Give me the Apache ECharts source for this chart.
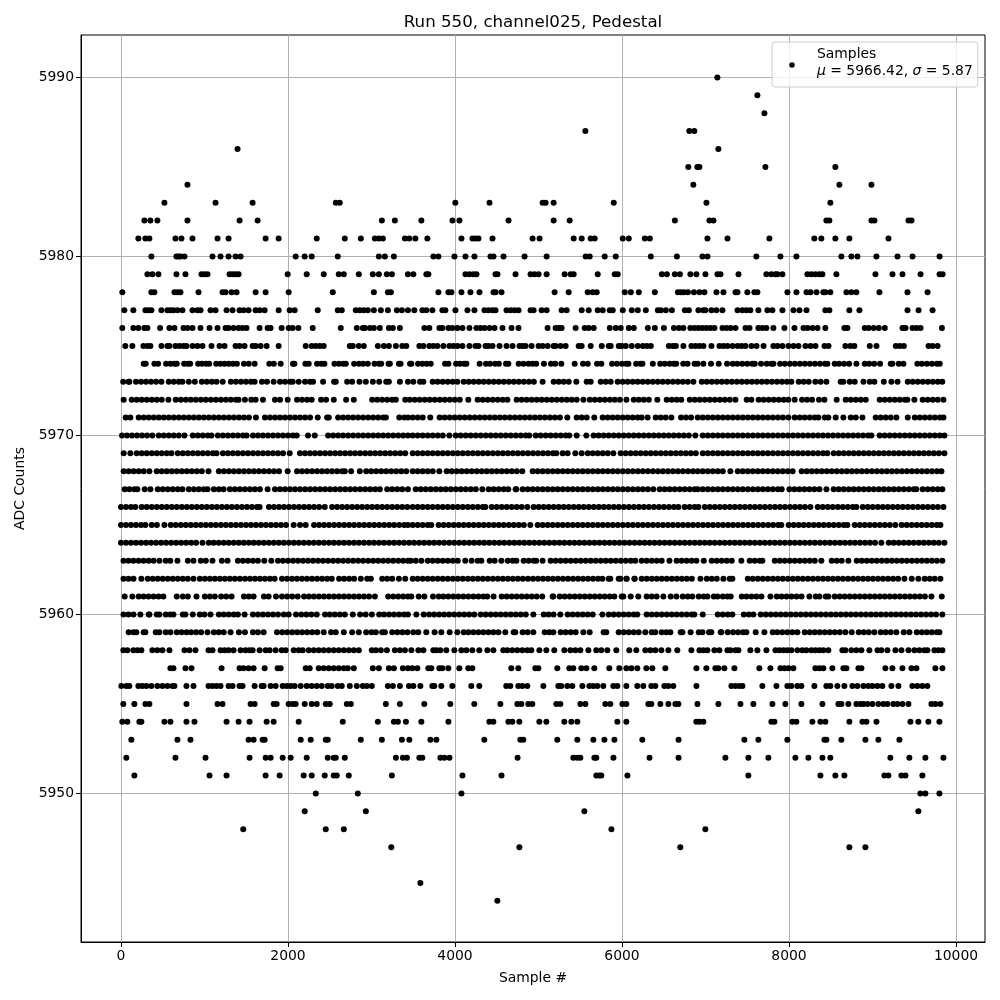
<!DOCTYPE html>
<html><head><meta charset="utf-8">
<style>html,body{margin:0;padding:0;background:#fff}#c{width:1000px;height:1000px}</style>
<script src="https://cdn.jsdelivr.net/npm/echarts@6/dist/echarts.min.js"></script>
</head><body><div id="c"></div>
<script>
const xTicks=[0,2000,4000,6000,8000,10000];
const yTicks=[5950,5960,5970,5980,5990];
const s5944=[4507];
const s5945=[3585];
const s5947=[3237,4771,6698,8723,8915];
const s5948=[1464,2452,2668,5873,6998];
const s5949=[2200,2932,5549,9549];
const s5950=[2332,2836,4077,9573,9633,9801];
const s5951=[160,1060,1264,1732,1900,2188,2284,2440,2548,2584,2728,3244,4089,4557,5692,5728,5752,6065,7513,8376,8555,8663,9142,9190,9346,9394,9597];
const s5952=[64,652,1012,1540,1732,1792,1936,2032,2224,2476,2548,2572,2680,3292,3376,3424,3573,3609,3825,3873,3933,4749,5417,5465,5501,5669,5692,5897,6329,6677,7238,7513,7753,8076,8232,8400,8495,9214,9441,9633,9849];
const s5953=[124,676,832,1528,1588,1696,1720,2152,2272,2452,2476,2872,3124,3364,3453,3705,3777,4351,4782,4818,5225,5465,5657,5789,5909,6243,6677,7465,7633,7980,8424,8448,8627,8915,9070,9322];
const s5954=[16,76,220,244,520,592,784,880,1264,1408,1540,1744,1828,2128,2656,3076,3268,3316,3412,3597,3921,4411,4459,4639,4686,4770,5010,5094,5309,5393,5465,5944,6052,6890,6927,6974,7789,7825,8040,8088,8280,8376,8436,8723,8879,8927,9047,9454,9549,9669,9801];
const s5955=[28,160,292,340,784,1156,1216,1552,1600,1828,1864,2008,2056,2092,2200,2284,2344,2452,2500,2704,2752,3172,3340,3632,3944,4231,4543,4746,4794,4878,4926,5213,5261,5501,5561,5800,5860,6004,6052,6315,6351,6459,6555,6639,6675,6903,7154,7418,7573,7801,7956,8148,8400,8591,8627,8711,8807,8855,8891,8939,8999,9070,9130,9178,9250,9298,9358,9430,9705,9753,9813];
const s5956=[4,64,100,208,256,304,364,436,496,556,616,640,784,868,1048,1096,1144,1192,1288,1336,1420,1456,1600,1684,1708,1792,1852,1936,1984,2032,2080,2152,2224,2284,2344,2404,2476,2524,2596,2644,2740,2824,2896,2944,3004,3196,3256,3340,3448,3501,3585,3728,3752,3836,3968,4195,4291,4614,4662,4758,4806,4866,5058,5237,5273,5345,5405,5525,5609,5657,5705,5776,5896,5944,6052,6183,6255,6351,6399,6507,6555,6614,6891,7310,7358,7406,7442,7681,7849,7980,8028,8100,8148,8304,8447,8495,8579,8663,8759,8819,8891,8950,8999,9059,9118,9226,9310,9477,9537,9597,9657];
const s5957=[592,628,772,844,1204,1420,1468,1528,1588,1720,1876,1912,2212,2260,2368,2428,2488,2548,2608,2668,2716,2788,3016,3088,3208,3268,3376,3436,3489,3549,3680,3716,3812,3848,3920,4052,4159,4207,4674,4758,4962,4998,5225,5369,5417,5513,5573,5668,5848,5968,6052,6112,6183,6291,6363,6519,6891,7010,7118,7154,7226,7346,7645,7777,7897,7945,7993,8052,8316,8364,8411,8519,8651,8687,8831,8867,9154,9238,9358,9466,9526,9753,9837];
const s5958=[28,76,148,196,244,376,436,496,580,760,820,892,1048,1096,1192,1240,1288,1348,1432,1492,1540,1576,1660,1732,1780,1852,1924,1972,2068,2128,2176,2248,2308,2368,2428,2488,2548,2608,2668,2728,2788,2848,3004,3052,3112,3184,3280,3340,3400,3477,3561,3621,3740,3776,3824,3896,3992,4076,4135,4207,4291,4387,4459,4578,4626,4686,4746,4806,4866,4914,5010,5094,5189,5309,5381,5441,5501,5597,5692,5752,5824,5932,6087,6171,6279,6339,6399,6471,6555,6662,6831,6927,6974,7022,7106,7166,7262,7298,7358,7394,7537,7621,7729,7837,7885,7933,7980,8028,8100,8160,8208,8268,8316,8364,8411,8471,8639,8675,8747,8807,8867,8962,9059,9106,9178,9274,9346,9430,9501,9561,9621,9657,9741,9789,9837];
const s5959=[92,150,184,272,292,416,460,536,592,668,725,785,840,900,960,1036,1112,1170,1230,1312,1412,1484,1580,1640,1708,1868,1930,1990,2050,2110,2170,2230,2290,2350,2428,2516,2572,2668,2768,2848,2936,3000,3052,3128,3160,3248,3310,3370,3430,3500,3560,3656,3756,3836,3936,4028,4104,4160,4220,4280,4340,4400,4460,4520,4602,4702,4722,4810,4870,4938,5074,5130,5177,5265,5325,5385,5445,5537,5613,5780,5812,5960,6020,6080,6140,6200,6279,6355,6399,6475,6530,6579,6703,6723,6822,6919,6963,7042,7070,7182,7190,7266,7330,7390,7450,7489,7601,7705,7805,7860,7920,7980,8040,8100,8188,8248,8308,8368,8428,8488,8548,8608,8675,8751,8835,8895,8955,9022,9098,9158,9218,9286,9374,9442,9530,9590,9650,9710,9770,9801];
const s5960=[30,90,150,232,332,340,428,460,536,590,628,740,772,860,944,1000,1072,1172,1230,1290,1350,1400,1480,1580,1640,1700,1760,1820,1880,1950,2008,2096,2160,2220,2280,2344,2444,2500,2560,2620,2680,2776,2864,2930,3004,3092,3150,3210,3270,3330,3390,3436,3537,3625,3690,3750,3810,3870,3930,3990,4050,4110,4170,4231,4307,4367,4427,4487,4547,4607,4667,4727,4787,4847,4938,5062,5120,5180,5261,5349,5409,5469,5529,5589,5649,5765,5840,5900,5960,6020,6080,6140,6183,6295,6355,6415,6475,6535,6595,6655,6715,6775,6835,6866,6967,7146,7206,7266,7322,7458,7518,7573,7661,7721,7781,7841,7901,7961,8021,8081,8141,8201,8261,8321,8381,8441,8501,8561,8621,8681,8741,8801,8861,8921,8981,9041,9101,9161,9221,9281,9341,9401,9461,9521,9581,9641,9701,9761,9836];
const s5961=[44,136,212,270,330,390,450,508,668,740,800,904,1004,1064,1124,1200,1260,1324,1472,1530,1588,1712,1768,1856,1928,1990,2050,2116,2192,2250,2310,2370,2430,2490,2550,2610,2670,2730,2790,2850,2910,2970,3040,3200,3260,3320,3380,3436,3477,3565,3633,3736,3804,3860,3920,3980,4040,4100,4160,4220,4280,4340,4386,4462,4559,4619,4679,4739,4799,4859,4919,4979,5045,5169,5177,5253,5313,5373,5433,5493,5553,5613,5673,5733,5793,5853,5908,5996,6016,6104,6195,6295,6355,6415,6495,6583,6651,6727,6787,6842,6919,6979,7023,7099,7143,7207,7262,7302,7434,7490,7550,7610,7670,7777,7853,7910,7970,8030,8090,8150,8244,8320,8364,8440,8471,8547,8607,8667,8727,8787,8847,8907,8967,9027,9087,9147,9207,9267,9327,9387,9447,9507,9567,9627,9705,9829];
const s5962=[30,90,150,244,320,380,440,500,560,620,680,740,800,868,944,1004,1064,1124,1184,1244,1304,1364,1424,1484,1544,1604,1664,1724,1784,1840,1928,1988,2048,2108,2168,2228,2288,2348,2408,2468,2524,2612,2672,2732,2792,2872,2948,2992,3128,3188,3248,3328,3404,3493,3553,3613,3673,3733,3793,3853,3913,3973,4033,4093,4153,4213,4273,4333,4393,4453,4513,4573,4633,4693,4753,4813,4873,4933,4993,5053,5113,5173,5233,5293,5353,5413,5473,5533,5593,5653,5713,5765,5840,5860,5960,5980,6056,6052,6152,6148,6236,6296,6356,6416,6476,6536,6596,6656,6716,6776,6836,6939,7015,7075,7135,7214,7290,7322,7506,7566,7626,7686,7746,7806,7866,7926,7986,8046,8106,8166,8226,8286,8346,8406,8466,8526,8586,8646,8706,8766,8826,8886,8946,9006,9066,9126,9186,9246,9306,9382,9470,9549,9625,9685,9745,9813];
const s5963=[30,90,150,210,270,330,390,460,536,590,676,800,868,956,1016,1096,1208,1276,1400,1460,1520,1580,1640,1716,1800,1880,1940,2000,2060,2120,2180,2240,2300,2360,2420,2480,2540,2600,2660,2720,2780,2840,2900,2960,3020,3080,3140,3200,3260,3320,3380,3436,3469,3530,3597,3673,3733,3793,3853,3913,3973,4033,4123,4199,4271,4315,4415,4475,4555,4631,4691,4735,4822,4882,4942,4973,5049,5145,5205,5265,5325,5385,5445,5505,5565,5625,5685,5745,5805,5865,5925,5985,6045,6105,6159,6235,6295,6355,6415,6475,6568,6654,6714,6774,6834,6891,6979,7074,7134,7194,7254,7314,7429,7529,7589,7649,7681,7829,7889,7949,8009,8069,8129,8189,8249,8309,8387,8511,8571,8631,8711,8811,8871,8931,8991,9051,9111,9171,9231,9291,9351,9411,9471,9531,9591,9651,9711,9771,9836];
const s5964=[0,60,120,180,240,300,360,420,480,540,600,660,720,780,840,900,976,1052,1110,1170,1230,1290,1350,1410,1470,1530,1590,1650,1710,1770,1830,1890,1950,2010,2070,2130,2190,2250,2310,2370,2430,2490,2550,2610,2670,2730,2790,2850,2910,2970,3030,3090,3150,3210,3270,3330,3390,3450,3510,3570,3630,3690,3750,3810,3870,3930,3990,4050,4110,4170,4230,4290,4350,4410,4470,4530,4590,4650,4710,4770,4830,4890,4950,5010,5070,5130,5190,5250,5310,5370,5430,5490,5550,5610,5670,5730,5790,5850,5910,5970,6030,6090,6150,6210,6270,6330,6390,6450,6510,6570,6630,6690,6750,6810,6870,6930,6990,7050,7110,7170,7230,7290,7350,7410,7470,7530,7590,7650,7710,7770,7830,7890,7950,8010,8070,8130,8190,8250,8310,8370,8430,8490,8550,8610,8670,8730,8790,8850,8910,8970,9030,9106,9194,9254,9314,9374,9434,9494,9554,9614,9674,9734,9794,9861];
const s5965=[0,60,120,180,240,292,368,430,520,596,656,716,776,836,896,956,1016,1076,1136,1196,1256,1316,1376,1436,1496,1556,1616,1676,1736,1796,1856,1916,1976,2068,2144,2212,2312,2372,2432,2492,2552,2612,2672,2732,2792,2852,2912,2972,3032,3092,3152,3212,3272,3332,3392,3436,3493,3553,3613,3673,3716,3804,3864,3924,3984,4044,4104,4164,4224,4284,4344,4404,4464,4524,4584,4644,4704,4764,4824,4902,4990,5050,5110,5170,5230,5290,5350,5410,5470,5530,5590,5650,5710,5770,5830,5890,5950,6010,6070,6130,6190,6250,6310,6370,6430,6490,6550,6610,6670,6730,6790,6850,6910,6970,7030,7090,7150,7210,7270,7330,7390,7450,7510,7570,7630,7690,7750,7810,7870,7908,7996,8056,8116,8176,8236,8296,8356,8416,8476,8536,8596,8656,8699,8787,8847,8907,8967,9027,9087,9147,9207,9273,9349,9409,9469,9529,9589,9649,9709,9769,9813];
const s5966=[0,60,120,172,248,308,368,428,488,548,608,668,728,788,848,908,968,1028,1088,1148,1208,1268,1328,1388,1448,1508,1568,1628,1660,1772,1832,1892,1952,2012,2072,2132,2192,2252,2312,2372,2440,2528,2588,2648,2708,2768,2828,2888,2948,3008,3068,3128,3188,3248,3308,3368,3428,3493,3553,3613,3673,3733,3793,3853,3913,3973,4033,4093,4153,4213,4273,4333,4363,4439,4499,4559,4619,4679,4739,4799,4866,4942,5002,5062,5122,5182,5242,5302,5362,5422,5482,5542,5602,5662,5722,5782,5842,5902,5962,6022,6082,6142,6202,6262,6322,6382,6442,6502,6562,6622,6674,6750,6810,6870,6915,6991,7051,7111,7171,7231,7291,7351,7411,7471,7531,7591,7651,7711,7771,7831,7891,7951,8011,8071,8131,8191,8256,8344,8404,8464,8524,8584,8644,8704,8764,8807,8883,8943,9003,9063,9123,9183,9243,9303,9363,9423,9483,9543,9603,9663,9723,9783,9849];
const s5967=[44,100,160,196,284,352,440,500,560,620,680,736,812,872,932,992,1036,1112,1172,1228,1304,1364,1424,1484,1544,1604,1664,1756,1844,1904,1964,2024,2084,2144,2204,2264,2324,2384,2444,2504,2564,2624,2684,2744,2804,2864,2924,2984,3044,3100,3188,3248,3308,3368,3436,3529,3589,3649,3709,3769,3829,3889,3949,4009,4069,4129,4189,4249,4327,4403,4463,4523,4583,4638,4726,4734,4810,4870,4930,4990,5050,5110,5170,5230,5290,5350,5410,5470,5530,5590,5650,5710,5770,5830,5890,5950,6010,6070,6130,6190,6250,6310,6375,6451,6511,6571,6631,6691,6751,6811,6871,6907,6967,7027,7087,7147,7207,7267,7327,7387,7447,7507,7567,7627,7687,7747,7807,7867,7912,8004,8064,8124,8184,8244,8304,8364,8448,8535,8595,8655,8715,8775,8835,8895,8955,9015,9075,9135,9195,9255,9315,9375,9435,9495,9525,9601,9661,9721,9781,9836];
const s5968=[32,92,152,212,272,340,428,488,548,608,668,728,788,848,908,968,1048,1172,1232,1292,1352,1412,1472,1532,1592,1652,1712,1772,1832,1892,1996,2108,2168,2228,2288,2348,2408,2468,2528,2588,2648,2680,2756,2860,2936,2996,3056,3116,3176,3236,3296,3356,3416,3493,3553,3613,3673,3733,3812,3900,3960,4020,4080,4140,4200,4260,4320,4380,4440,4500,4560,4620,4680,4740,4806,4930,4990,5050,5110,5170,5230,5290,5350,5410,5470,5530,5590,5650,5710,5770,5830,5890,5950,6010,6070,6130,6190,6250,6310,6370,6430,6490,6550,6610,6670,6730,6790,6850,6907,6967,7027,7087,7147,7207,7298,7386,7446,7506,7566,7626,7686,7746,7806,7866,7926,7986,8044,8152,8212,8272,8332,8392,8452,8512,8572,8632,8692,8752,8812,8872,8932,8992,9052,9112,9172,9232,9292,9352,9412,9472,9532,9592,9652,9712,9772,9825];
const s5969=[32,112,188,248,308,368,428,488,548,604,680,740,800,860,920,980,1040,1100,1144,1220,1280,1340,1400,1460,1520,1580,1640,1700,1760,1820,1880,1940,2020,2144,2204,2264,2324,2384,2444,2504,2564,2624,2684,2744,2804,2864,2924,2984,3044,3104,3164,3224,3284,3344,3404,3493,3553,3613,3673,3733,3793,3853,3913,3973,4033,4093,4153,4213,4273,4333,4393,4453,4513,4573,4633,4693,4753,4813,4873,4933,4993,5053,5113,5173,5213,5289,5349,5441,5517,5589,5649,5709,5769,5829,5896,5984,6044,6104,6164,6224,6284,6344,6404,6464,6524,6584,6644,6704,6764,6824,6884,6967,7027,7087,7147,7207,7267,7327,7387,7447,7507,7567,7627,7687,7747,7807,7867,7927,7987,8047,8107,8167,8227,8287,8347,8407,8459,8535,8595,8655,8715,8775,8835,8895,8955,9015,9075,9135,9195,9255,9315,9375,9435,9495,9555,9615,9675,9735,9795,9861];
const s5970=[12,72,132,192,252,312,376,452,512,572,632,692,760,860,920,980,1040,1084,1160,1220,1280,1340,1400,1460,1504,1580,1640,1700,1760,1820,1880,1940,2000,2060,2104,2240,2320,2480,2540,2600,2660,2720,2780,2840,2900,2960,3020,3080,3140,3200,3260,3320,3380,3436,3493,3553,3613,3673,3733,3793,3853,3932,4008,4068,4128,4188,4248,4308,4368,4428,4488,4548,4608,4668,4728,4788,4848,4890,4966,5026,5086,5146,5206,5266,5326,5368,5457,5573,5660,5720,5780,5840,5900,5960,6020,6080,6140,6200,6260,6320,6380,6440,6500,6560,6620,6680,6740,6800,6878,6967,7027,7087,7147,7207,7267,7327,7387,7447,7507,7567,7627,7687,7747,7807,7867,7927,7987,8047,8107,8167,8227,8287,8347,8407,8467,8527,8587,8647,8707,8767,8827,8887,8947,8986,9086,9146,9206,9266,9326,9386,9446,9506,9566,9626,9686,9746,9806,9861];
const s5971=[56,112,212,272,332,392,452,512,572,632,692,752,812,872,932,992,1052,1112,1172,1232,1292,1352,1412,1472,1532,1616,1724,1784,1844,1904,1964,2024,2084,2144,2204,2264,2356,2468,2488,2600,2660,2720,2780,2840,2900,2960,3020,3080,3140,3172,3332,3392,3436,3493,3553,3613,3704,3816,3876,3936,3996,4056,4116,4176,4236,4296,4356,4416,4476,4536,4596,4656,4716,4776,4836,4896,4956,5016,5076,5136,5196,5256,5345,5457,5517,5577,5668,5768,5828,5888,5948,6008,6068,6128,6188,6235,6307,6403,6463,6523,6591,6707,6767,6827,6907,6967,7027,7087,7147,7207,7267,7327,7387,7447,7507,7567,7627,7687,7747,7807,7867,7927,7992,8068,8128,8188,8248,8308,8351,8428,8471,8559,8651,8739,8799,8879,9038,9098,9158,9218,9286,9422,9506,9566,9626,9686,9746,9806,9849];
const s5972=[32,128,188,248,308,368,428,488,568,656,716,776,836,896,956,1016,1076,1136,1196,1256,1316,1376,1408,1484,1560,1612,1700,1844,1904,1996,2108,2168,2228,2284,2396,2456,2548,2696,2788,3008,3068,3128,3188,3248,3292,3404,3457,3517,3577,3637,3697,3757,3817,3877,3937,3997,4057,4159,4271,4331,4391,4451,4511,4571,4627,4738,4798,4858,4918,4978,5038,5098,5158,5218,5278,5338,5398,5458,5538,5614,5674,5734,5794,5854,5914,5974,6053,6141,6201,6261,6321,6423,6535,6595,6655,6710,6811,6871,6931,6991,7051,7111,7171,7231,7291,7358,7493,7549,7637,7697,7757,7817,7877,7937,7992,8068,8156,8216,8276,8359,8424,8571,8679,8739,8799,8859,8919,9086,9146,9206,9266,9326,9386,9417,9501,9601,9661,9721,9781,9849];
const s5973=[26,92,100,180,240,300,360,420,484,572,632,692,736,812,884,968,1028,1088,1144,1218,1316,1376,1436,1496,1556,1600,1688,1748,1828,1904,1964,2024,2056,2128,2204,2264,2300,2420,2552,2572,2708,2768,2856,2932,3016,3092,3176,3208,3340,3436,3501,3581,3621,3732,3792,3852,3912,3972,4028,4104,4164,4224,4284,4344,4404,4464,4524,4584,4644,4704,4764,4824,4884,4944,5049,5182,5242,5302,5362,5453,5577,5625,5745,5805,5864,5948,6008,6068,6128,6188,6248,6308,6368,6428,6488,6548,6608,6668,6728,6788,6855,6955,7015,7075,7135,7195,7255,7315,7375,7435,7495,7555,7615,7675,7735,7795,7855,7915,7975,8028,8116,8176,8236,8315,8379,8448,8619,8651,8727,8787,8891,8967,9023,9135,9226,9300,9422,9482,9542,9602,9662,9722,9782,9836];
const s5974=[272,296,400,444,540,590,640,668,756,800,828,924,970,1020,1056,1140,1190,1240,1290,1340,1388,1472,1530,1600,1776,1830,1912,2060,2076,2208,2248,2348,2400,2436,2556,2610,2660,2692,2792,2850,2900,2956,3036,3090,3116,3204,3220,3328,3348,3461,3477,3557,3610,3660,3709,3881,3921,4013,4060,4110,4137,4295,4371,4420,4480,4525,4611,4639,4762,4820,4880,4930,4973,5065,5149,5200,5273,5433,5533,5590,5701,5753,5881,5940,6000,6050,6077,6169,6220,6245,6369,6457,6510,6570,6620,6649,6733,6785,6869,6905,6974,7066,7158,7258,7326,7380,7440,7500,7560,7590,7665,7733,7790,7813,7893,7950,8010,8070,8130,8190,8250,8310,8370,8430,8459,8547,8600,8660,8720,8807,8907,8960,9020,9090,9218,9238,9314,9370,9537,9590,9650,9710,9770,9805];
const s5975=[52,136,268,316,352,484,556,580,652,700,748,784,856,916,976,1084,1180,1240,1372,1420,1480,1576,1612,1672,1744,1888,2212,2284,2332,2380,2428,2740,2776,2848,2908,3076,3148,3208,3292,3369,3417,3573,3621,3693,3741,3789,3861,3933,3981,4029,4089,4173,4245,4281,4365,4401,4449,4533,4617,4689,4773,4809,4845,4917,5001,5049,5109,5181,5205,5265,5325,5481,5517,5625,5757,5841,5865,5961,5997,6045,6117,6189,6249,6297,6345,6561,6609,6645,6735,6831,6879,6927,6975,7071,7167,7215,7263,7323,7383,7431,7479,7551,7611,7695,7813,7861,7921,7993,8053,8113,8197,8257,8317,8425,8473,8675,8735,8783,8967,9047,9279,9327,9375,9671,9719,9779];
const s5976=[16,148,208,280,316,468,580,640,748,796,856,952,1060,1156,1252,1288,1348,1408,1456,1504,1660,1756,1792,1924,2008,2056,2124,2296,2632,2824,2896,2920,2980,3028,3100,3208,3256,3340,3633,3693,3813,3849,3921,3969,4029,4089,4173,4257,4305,4353,4413,4473,4569,4677,4761,5109,5205,5241,5277,5445,5553,5601,5661,5853,5925,5985,6081,6141,6309,6393,6501,6621,6681,6735,6819,6867,6915,6963,7011,7059,7107,7203,7251,7299,7359,7479,7527,7633,7681,7729,7813,7945,8065,8173,8221,8281,8341,8435,8663,8699,8907,8955,9015,9075,9147,9359,9395,9479,9527,9575,9831];
const s5977=[40,148,292,328,364,484,556,592,628,676,736,856,916,952,1072,1132,1264,1336,1420,1468,1528,1612,1660,1720,1888,2020,2080,2356,2596,2644,2812,2860,2908,2956,3028,3112,3196,3304,3364,3436,3513,3609,3657,3729,3849,3885,4005,4149,4233,4353,4401,4449,4485,4617,4665,4713,4761,4905,4941,5037,5097,5277,5337,5517,5601,5709,5769,5853,5889,6009,6117,6189,6285,6429,6465,6525,6597,6753,6801,6915,6975,6999,7071,7131,7203,7383,7441,7489,7537,7633,7741,7801,7921,8053,8125,8209,8435,8483,8723,8843,9419,9551,9719];
const s5978=[16,364,400,640,676,712,928,1216,1252,1324,1384,1612,1732,2008,2536,3028,3196,3232,3801,3921,3957,4077,4185,4293,4461,4485,4557,5193,5361,5589,5649,5697,6033,6105,6201,6393,6669,6705,6741,6789,6861,6927,6987,7131,7215,7359,7383,7501,7585,7621,7981,8089,8209,8257,8329,8411,8435,8495,8687,8747,8807,9083,9419,9659];
const s5979=[316,376,448,664,772,964,1000,1036,1300,1336,1372,1408,1996,2224,2428,2608,2668,2848,3016,3088,3184,3244,3436,3501,3657,3681,4125,4173,4221,4257,4485,4509,4725,4905,4953,5001,5097,5313,5385,5421,5709,5913,5949,6477,6537,6633,6693,6819,6891,6999,7143,7179,7395,7729,7789,7837,7861,7921,8220,8268,8316,8364,8400,8567,9035,9239,9359,9575,9803,9839];
const s5980=[364,664,688,712,760,1096,1192,1288,1372,1432,2092,2200,2284,2596,3088,3160,3268,3741,3801,3993,4125,4233,4425,4461,4581,4833,5097,5565,5613,5793,5925,6345,6657,6963,7023,7609,7897,8089,8627,8747,8819,9047,9299,9479,9803];
const s5981=[208,292,340,652,724,856,1156,1288,1732,1888,2344,2680,2872,3040,3088,3136,3400,3453,3525,3669,4077,4209,4245,4281,4449,4929,5013,5421,5517,5625,5673,6009,6081,6273,6333,7023,7263,7765,8303,8387,8555,8723,9191];
const s5982=[280,352,436,796,1420,1636,3124,3280,3597,3969,4053,4641,5181,5373,6633,7047,7095,8447,8483,8987,9023,9431,9467];
const s5983=[520,1132,1576,2572,2620,4004,4413,5049,5085,5181,5901,7011,8495];
const s5984=[796,6854,8603,8987];
const s5985=[6794,6902,6927,7717,8555];
const s5986=[1396,7154];
const s5987=[5561,6806,6866];
const s5988=[7705];
const s5989=[7621];
const s5990=[7142];
const adcValues=[5944,5945,5947,5948,5949,5950,5951,5952,5953,5954,5955,5956,5957,5958,5959,5960,5961,5962,5963,5964,5965,5966,5967,5968,5969,5970,5971,5972,5973,5974,5975,5976,5977,5978,5979,5980,5981,5982,5983,5984,5985,5986,5987,5988,5989,5990];
const sampleRows=[s5944,s5945,s5947,s5948,s5949,s5950,s5951,s5952,s5953,s5954,s5955,s5956,s5957,s5958,s5959,s5960,s5961,s5962,s5963,s5964,s5965,s5966,s5967,s5968,s5969,s5970,s5971,s5972,s5973,s5974,s5975,s5976,s5977,s5978,s5979,s5980,s5981,s5982,s5983,s5984,s5985,s5986,s5987,s5988,s5989,s5990];
const points=[];
sampleRows.forEach((r,i)=>r.forEach(x=>points.push([x,adcValues[i]])));
const FONT='"DejaVu Sans"';
const chart=echarts.init(document.getElementById('c'),null,{renderer:'canvas'});
const axisCommon={
  type:'value',
  axisLine:{show:true,onZero:false,lineStyle:{color:'#000',width:1}},
  axisTick:{show:true,length:5,lineStyle:{color:'#000',width:1}},
  splitLine:{show:true,lineStyle:{color:'#b0b0b0',width:1}},
  nameLocation:'middle',
  nameTextStyle:{color:'#000',fontFamily:FONT,fontSize:13.9}
};
chart.setOption({
  animation:false,
  backgroundColor:'#fff',
  title:{text:'Run 550, channel025, Pedestal',left:528,top:9,textAlign:'center',
    textStyle:{color:'#000',fontFamily:FONT,fontSize:16.67,fontWeight:'normal'}},
  grid:{left:81,right:15,top:35,bottom:58,show:true,borderColor:'#000',borderWidth:1},
  legend:{show:true,left:772,top:42,padding:[4,5,3,17.25],
    data:[{name:'Samples',icon:'circle'}],
    itemWidth:28,itemHeight:5.5,
    backgroundColor:'rgba(255,255,255,0.8)',borderColor:'#ccc',borderWidth:1,borderRadius:3,
    formatter:()=>'Samples\n{i|\u03bc} = 5966.42, {i|\u03c3} = 5.87',
    textStyle:{color:'#000',fontFamily:FONT,fontSize:13.9,lineHeight:17,padding:[0,0,4,6],
      rich:{i:{fontStyle:'italic',fontFamily:FONT,fontSize:13.9,lineHeight:17,color:'#000'}}}},
  xAxis:Object.assign({},axisCommon,{min:-479,max:10347,name:'Sample #',nameGap:29,
    axisTick:Object.assign({},axisCommon.axisTick,{customValues:xTicks}),
    axisLabel:{customValues:xTicks,color:'#000',fontFamily:FONT,fontSize:13.9,margin:7,formatter:v=>String(v)}}),
  yAxis:Object.assign({},axisCommon,{min:5941.7,max:5992.37,name:'ADC Counts',nameGap:52,nameRotate:90,
    axisTick:Object.assign({},axisCommon.axisTick,{customValues:yTicks}),
    axisLabel:{customValues:yTicks,color:'#000',fontFamily:FONT,fontSize:13.9,margin:7,formatter:v=>String(v)}}),
  series:[{name:'Samples',type:'scatter',data:points,symbol:'circle',symbolSize:6,
    itemStyle:{color:'#000',opacity:1},clip:true,silent:true,z:3}]
});
</script></body></html>
